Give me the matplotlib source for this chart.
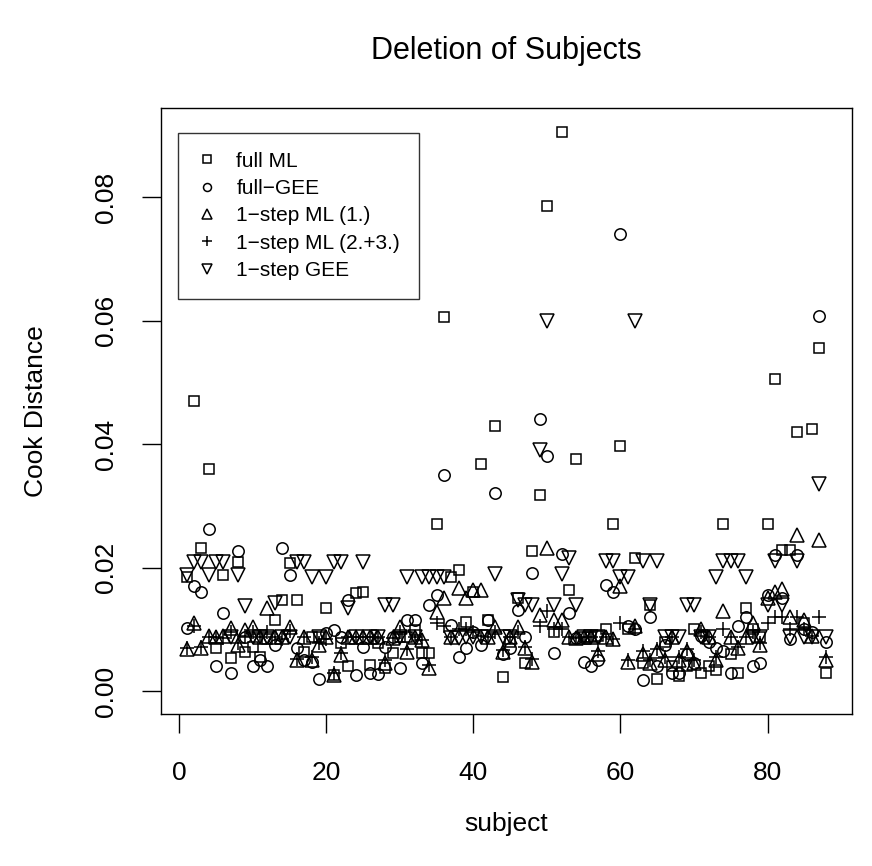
import matplotlib
matplotlib.use("Agg")
import matplotlib.pyplot as plt
import numpy as np

plt.rcParams['font.family'] = ['Liberation Sans', 'DejaVu Sans']

# Cook distances when deleting one subject at a time
subject = np.arange(1, 89)

full_ml = [0.0185, 0.0470, 0.0232, 0.0360, 0.0070, 0.0188, 0.0053, 0.0209, 0.0063, 0.0072,
           0.0055, 0.0085, 0.0115, 0.0147, 0.0207, 0.0147, 0.0063, 0.0088, 0.0088, 0.0134,
           0.0026, 0.0078, 0.0040, 0.0159, 0.0160, 0.0042, 0.0078, 0.0037, 0.0061, 0.0087,
           0.0087, 0.0099, 0.0061, 0.0061, 0.0270, 0.0605, 0.0185, 0.0196, 0.0112, 0.0160,
           0.0367, 0.0115, 0.0430, 0.0023, 0.0079, 0.0151, 0.0045, 0.0227, 0.0318, 0.0785,
           0.0096, 0.0905, 0.0163, 0.0375, 0.0087, 0.0087, 0.0090, 0.0100, 0.0270, 0.0397,
           0.0100, 0.0215, 0.0045, 0.0140, 0.0020, 0.0080, 0.0040, 0.0025, 0.0040, 0.0100,
           0.0030, 0.0040, 0.0035, 0.0270, 0.0060, 0.0030, 0.0135, 0.0100, 0.0087, 0.0270,
           0.0505, 0.0228, 0.0228, 0.0420, 0.0110, 0.0425, 0.0555, 0.0030]

full_gee = [0.0102, 0.0170, 0.0160, 0.0262, 0.0040, 0.0127, 0.0030, 0.0227, 0.0087, 0.0040,
            0.0050, 0.0040, 0.0075, 0.0232, 0.0188, 0.0070, 0.0050, 0.0047, 0.0020, 0.0094,
            0.0099, 0.0087, 0.0147, 0.0026, 0.0071, 0.0029, 0.0028, 0.0071, 0.0087, 0.0037,
            0.0115, 0.0115, 0.0045, 0.0139, 0.0156, 0.0350, 0.0107, 0.0055, 0.0070, 0.0096,
            0.0075, 0.0115, 0.0320, 0.0060, 0.0070, 0.0131, 0.0087, 0.0191, 0.0440, 0.0380,
            0.0061, 0.0222, 0.0126, 0.0086, 0.0047, 0.0040, 0.0050, 0.0172, 0.0160, 0.0740,
            0.0105, 0.0100, 0.0018, 0.0120, 0.0040, 0.0075, 0.0030, 0.0030, 0.0060, 0.0045,
            0.0090, 0.0080, 0.0070, 0.0065, 0.0030, 0.0105, 0.0120, 0.0040, 0.0045, 0.0155,
            0.0220, 0.0150, 0.0085, 0.0220, 0.0100, 0.0095, 0.0607, 0.0080]

ml_1 = [0.0068, 0.0110, 0.0070, 0.0090, 0.0087, 0.0090, 0.0102, 0.0075, 0.0099, 0.0104,
        0.0087, 0.0134, 0.0087, 0.0087, 0.0104, 0.0050, 0.0087, 0.0050, 0.0075, 0.0087,
        0.0026, 0.0058, 0.0087, 0.0087, 0.0087, 0.0087, 0.0087, 0.0045, 0.0086, 0.0104,
        0.0063, 0.0087, 0.0083, 0.0037, 0.0128, 0.0150, 0.0087, 0.0167, 0.0150, 0.0164,
        0.0164, 0.0087, 0.0104, 0.0063, 0.0087, 0.0104, 0.0070, 0.0047, 0.0123, 0.0232,
        0.0115, 0.0115, 0.0087, 0.0086, 0.0087, 0.0087, 0.0060, 0.0087, 0.0085, 0.0170,
        0.0047, 0.0105, 0.0060, 0.0045, 0.0065, 0.0050, 0.0087, 0.0050, 0.0065, 0.0045,
        0.0100, 0.0087, 0.0050, 0.0130, 0.0087, 0.0070, 0.0087, 0.0110, 0.0075, 0.0150,
        0.0160, 0.0165, 0.0120, 0.0252, 0.0115, 0.0090, 0.0245, 0.0050]

ml_23 = [0.0070, 0.0106, 0.0072, 0.0088, 0.0087, 0.0086, 0.0095, 0.0078, 0.0090, 0.0095,
         0.0087, 0.0095, 0.0087, 0.0085, 0.0098, 0.0052, 0.0087, 0.0055, 0.0078, 0.0085,
         0.0030, 0.0062, 0.0087, 0.0087, 0.0087, 0.0087, 0.0087, 0.0050, 0.0086, 0.0095,
         0.0068, 0.0087, 0.0083, 0.0042, 0.0110, 0.0105, 0.0087, 0.0100, 0.0100, 0.0095,
         0.0090, 0.0087, 0.0095, 0.0066, 0.0087, 0.0095, 0.0072, 0.0052, 0.0105, 0.0130,
         0.0100, 0.0100, 0.0087, 0.0086, 0.0087, 0.0087, 0.0065, 0.0087, 0.0085, 0.0110,
         0.0050, 0.0100, 0.0065, 0.0050, 0.0068, 0.0055, 0.0087, 0.0055, 0.0068, 0.0050,
         0.0095, 0.0087, 0.0055, 0.0100, 0.0087, 0.0072, 0.0087, 0.0095, 0.0078, 0.0110,
         0.0120, 0.0120, 0.0100, 0.0120, 0.0100, 0.0090, 0.0120, 0.0055]

gee_1 = [0.0188, 0.0209, 0.0209, 0.0188, 0.0209, 0.0209, 0.0087, 0.0188, 0.0138, 0.0087,
         0.0087, 0.0087, 0.0142, 0.0087, 0.0087, 0.0209, 0.0209, 0.0185, 0.0087, 0.0185,
         0.0209, 0.0209, 0.0134, 0.0087, 0.0209, 0.0087, 0.0087, 0.0140, 0.0140, 0.0087,
         0.0185, 0.0087, 0.0185, 0.0185, 0.0185, 0.0185, 0.0086, 0.0086, 0.0087, 0.0087,
         0.0087, 0.0087, 0.0190, 0.0087, 0.0087, 0.0148, 0.0140, 0.0140, 0.0390, 0.0600,
         0.0140, 0.0190, 0.0215, 0.0140, 0.0087, 0.0087, 0.0087, 0.0210, 0.0210, 0.0185,
         0.0185, 0.0600, 0.0210, 0.0140, 0.0210, 0.0087, 0.0087, 0.0087, 0.0140, 0.0140,
         0.0087, 0.0087, 0.0185, 0.0210, 0.0210, 0.0210, 0.0185, 0.0087, 0.0087, 0.0140,
         0.0210, 0.0140, 0.0087, 0.0210, 0.0087, 0.0087, 0.0335, 0.0087]

labels = ["full ML", "full\u2212GEE", "1\u2212step ML (1.)", "1\u2212step ML (2.+3.)", "1\u2212step GEE"]

fig = plt.figure(figsize=(8.72, 8.66), dpi=100)
ax = fig.add_axes([161 / 872, 1 - 714 / 866, (852 - 161) / 872, (714 - 108) / 866])

kw = dict(linestyle='none', color='black', markerfacecolor='none', markeredgewidth=1.1)
ax.plot(subject, full_ml, marker='s', markersize=7.4, label=labels[0], **kw)
ax.plot(subject, full_gee, marker='o', markersize=8.2, label=labels[1], **kw)
ax.plot(subject, ml_1, marker='^', markersize=9.4, label=labels[2], **kw)
ax.plot(subject, ml_23, marker='+', markersize=10, label=labels[3], **kw)
ax.plot(subject, gee_1, marker='v', markersize=9.4, label=labels[4], **kw)

ax.set_xlim(-2.48, 91.48)
ax.set_ylim(-0.0037, 0.0944)
ax.set_xticks([0, 20, 40, 60, 80])
ax.set_yticks([0.0, 0.02, 0.04, 0.06, 0.08])
ax.set_yticklabels(["0.00", "0.02", "0.04", "0.06", "0.08"], rotation=90, va='center')
ax.tick_params(direction='out', length=14, width=1, labelsize=19)
ax.tick_params(axis='x', pad=20)
ax.tick_params(axis='y', pad=17)
for s in ax.spines.values():
    s.set_linewidth(1)

ax.set_xlabel("subject", fontsize=19, labelpad=19)
ax.set_ylabel("Cook Distance", fontsize=19, labelpad=33)
ax.set_title("Deletion of Subjects", fontsize=22, pad=35)

leg = ax.legend(loc='upper left', bbox_to_anchor=(17 / 691, 1 - 25 / 606), borderaxespad=0,
                fontsize=15, frameon=True, fancybox=False, edgecolor='black',
                borderpad=0.9, handletextpad=0.9, labelspacing=0.4, handlelength=1.0,
                markerscale=0.7)
leg.get_frame().set_linewidth(1)

fig.savefig("out.png", dpi=100)
